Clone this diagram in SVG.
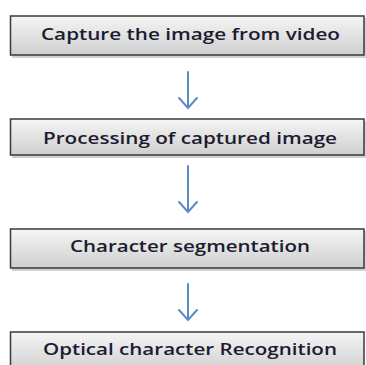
<svg xmlns="http://www.w3.org/2000/svg" width="366" height="365" viewBox="0 0 366 365">
<style>
.box{fill:url(#g);stroke:#3a3a3a;stroke-width:1.5}
.sh{fill:#000;opacity:0.18}
.t{font-family:"Open Sans","Liberation Sans",sans-serif;font-size:17px;font-weight:600;fill:#1c1c30}
.c{stroke:#5b8bc9;stroke-width:2;fill:none;stroke-linecap:round}
</style>
<defs>
<linearGradient id="g" x1="0" y1="0" x2="0" y2="1">
<stop offset="0" stop-color="#f5f5f5"/>
<stop offset="1" stop-color="#cfcfcf"/>
</linearGradient>
</defs>
<rect width="366" height="365" fill="#fff"/>
<g id="n1">
<rect class="sh" x="12" y="18" width="354" height="40"/>
<rect class="box" x="10.5" y="16" width="353.5" height="39"/>
<text class="t" x="41" y="40" textLength="299" lengthAdjust="spacingAndGlyphs">Capture the image from video</text>
</g>
<g id="n2">
<rect class="sh" x="12" y="121" width="354" height="37"/>
<rect class="box" x="10.5" y="119" width="353.5" height="36"/>
<text class="t" x="43" y="144" textLength="294" lengthAdjust="spacingAndGlyphs">Processing of captured image</text>
</g>
<g id="n3">
<rect class="sh" x="12" y="231" width="354" height="40"/>
<rect class="box" x="10.5" y="229" width="353.5" height="39"/>
<text class="t" x="70" y="252" textLength="240" lengthAdjust="spacingAndGlyphs">Character segmentation</text>
</g>
<g id="n4">
<rect class="box" x="10.5" y="332" width="353.5" height="40"/>
<text class="t" x="43" y="355" textLength="294" lengthAdjust="spacingAndGlyphs">Optical character Recognition</text>
</g>
<g id="connectors">
<path class="c" d="M188 72V108M179 98L188 108L197 98"/>
<path class="c" d="M188 166V212M179 202L188 212L197 202"/>
<path class="c" d="M188 284V320M179 310L188 320L197 310"/>
</g>
</svg>
